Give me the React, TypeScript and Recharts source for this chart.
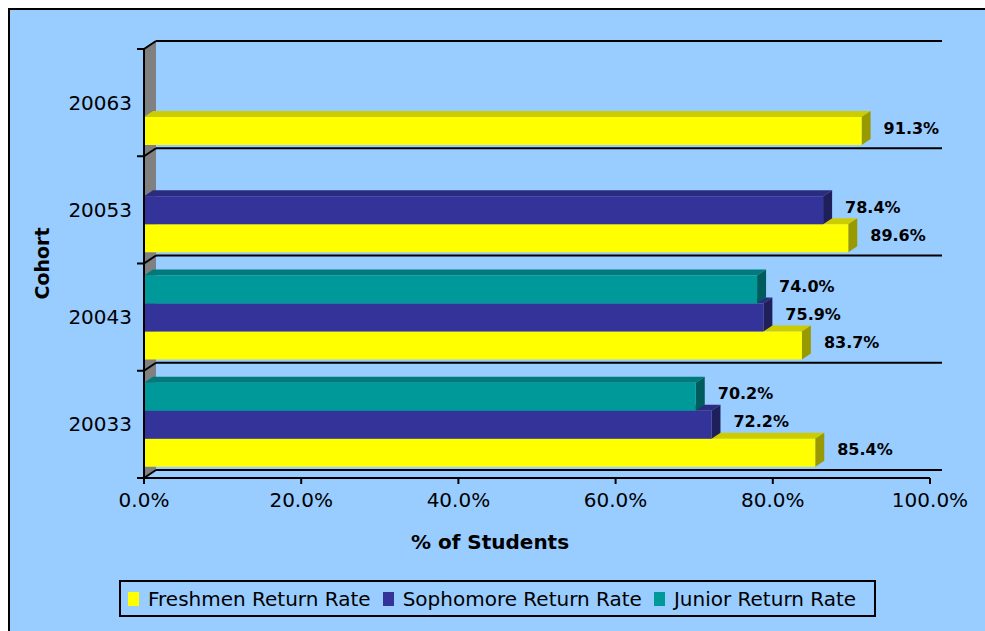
import { BarChart, Bar, XAxis, YAxis, LabelList, Customized } from 'recharts'

const cohorts = ['20063', '20053', '20043', '20033']
const freshmenRate = [91.3, 89.6, 83.7, 85.4]
const sophomoreRate = [null, 86.4, 78.8, 72.2]
const juniorRate = [null, null, 78.0, 70.2]
const freshmenLabels = ['91.3%', '89.6%', '83.7%', '85.4%']
const sophomoreLabels = ['', '78.4%', '75.9%', '72.2%']
const juniorLabels = ['', '', '74.0%', '70.2%']
const xTicks = [0, 20, 40, 60, 80, 100]

const seriesNames = ['Freshmen Return Rate', 'Sophomore Return Rate', 'Junior Return Rate']

const FONT = '"DejaVu Sans", Verdana, sans-serif'
const BG = '#99CCFF'

const FACES = {
  fresh: { front: '#FFFF00', top: '#CCCC00', side: '#999900' },
  soph: { front: '#333399', top: '#2B2B80', side: '#1F1F5C' },
  junior: { front: '#009999', top: '#007A7A', side: '#005C5C' },
}
const legendColors = [FACES.fresh.front, FACES.soph.front, FACES.junior.front]

// chart box and layout
const W = 975
const H = 621
const M = { top: 39, right: 55, bottom: 73, left: 54 }
const Y_W = 80
const X_H = 80
const PLOT = {
  x: M.left + Y_W,
  y: M.top,
  w: W - M.left - Y_W - M.right,
  h: H - M.top - M.bottom - X_H,
}
// 3d depth of walls and boxes
const WALL_DX = 12
const WALL_DY = 8
const BOX_DX = 9
const BOX_DY = 6

const data = cohorts.map((c, i) => ({
  cohort: c,
  fresh: freshmenRate[i],
  soph: sophomoreRate[i],
  junior: juniorRate[i],
  freshLabel: freshmenLabels[i],
  sophLabel: sophomoreLabels[i],
  juniorLabel: juniorLabels[i],
}))

function Box3D(props: any) {
  const { x, y, width, height, faces } = props
  if (!(width > 0) || !(height > 0)) return null
  const r = x + width
  return (
    <g>
      <polygon
        points={`${x},${y} ${x + BOX_DX},${y - BOX_DY} ${r + BOX_DX},${y - BOX_DY} ${r},${y}`}
        fill={faces.top}
      />
      <polygon
        points={`${r},${y} ${r + BOX_DX},${y - BOX_DY} ${r + BOX_DX},${y + height - BOX_DY} ${r},${y + height}`}
        fill={faces.side}
      />
      <rect x={x} y={y} width={width} height={height} fill={faces.front} />
    </g>
  )
}

const renderLabel = (p: any) => {
  const { x, y, width, height, value } = p
  if (!value) return null
  return (
    <text
      x={Number(x) + Number(width) + 22}
      y={Number(y) + Number(height) / 2 - 3}
      dominantBaseline="central"
      fontFamily={FONT}
      fontWeight="bold"
      fontSize={16}
      fill="#000"
    >
      {value}
    </text>
  )
}

// back wall, side wall and category boundary lines
function Walls() {
  const n = cohorts.length
  const band = PLOT.h / n
  const bounds = Array.from({ length: n + 1 }, (_, i) => PLOT.y + i * band)
  const { x, y, w, h } = PLOT
  return (
    <g>
      <polygon
        points={`${x},${y} ${x + WALL_DX},${y - WALL_DY} ${x + WALL_DX},${y + h - WALL_DY} ${x},${y + h}`}
        fill="#808080"
      />
      {bounds.map((b, i) => (
        <g key={i}>
          <line x1={x + WALL_DX} y1={b - WALL_DY} x2={x + w + WALL_DX} y2={b - WALL_DY} stroke="#000" strokeWidth={2} />
          <line x1={x} y1={b} x2={x + WALL_DX} y2={b - WALL_DY} stroke="#000" strokeWidth={2} />
          <line x1={x - 7} y1={b} x2={x} y2={b} stroke="#000" strokeWidth={2} />
        </g>
      ))}
    </g>
  )
}

function Legend3() {
  return (
    <div
      style={{
        position: 'absolute',
        left: 109,
        top: 570,
        width: 757,
        height: 37,
        boxSizing: 'border-box',
        border: '2px solid #000',
        display: 'flex',
        alignItems: 'center',
        paddingLeft: 7,
        fontFamily: FONT,
        fontSize: 20,
        color: '#000',
        whiteSpace: 'nowrap',
      }}
    >
      {seriesNames.map((name, i) => (
        <span key={name} style={{ display: 'flex', alignItems: 'center', marginRight: 12 }}>
          <span style={{ display: 'inline-block', width: 11, height: 14, background: legendColors[i], marginRight: 9 }} />
          {name}
        </span>
      ))}
    </div>
  )
}

export default function App() {
  return (
    <div
      style={{
        position: 'fixed',
        left: 8,
        top: 8,
        width: W,
        height: H,
        background: BG,
        borderLeft: '2px solid #000',
        borderTop: '2px solid #000',
      }}
    >
      <BarChart
        layout="vertical"
        width={W}
        height={H}
        data={data}
        margin={M}
        barSize={28}
        barGap={-56}
      >
        <Customized component={<Walls />} />
        <XAxis
          type="number"
          domain={[0, 100]}
          ticks={xTicks}
          tickFormatter={(v: number) => `${v.toFixed(1)}%`}
          height={X_H}
          tickSize={6}
          tickMargin={9}
          tick={{ fill: '#000', fontSize: 20, fontFamily: FONT }}
          axisLine={{ stroke: '#000', strokeWidth: 2 }}
          tickLine={{ stroke: '#000', strokeWidth: 2 }}
          label={() => (
            <text x={480} y={532} textAnchor="middle" dominantBaseline="central" fontFamily={FONT} fontWeight="bold" fontSize={20} fill="#000">
              % of Students
            </text>
          )}
        />
        <YAxis
          type="category"
          dataKey="cohort"
          width={Y_W}
          tickLine={false}
          tickSize={0}
          tickMargin={12}
          tick={{ fill: '#000', fontSize: 20, fontFamily: FONT }}
          axisLine={{ stroke: '#000', strokeWidth: 2 }}
          label={() => (
            <text
              x={32}
              y={PLOT.y + PLOT.h / 2}
              textAnchor="middle"
              dominantBaseline="central"
              transform={`rotate(-90 32 ${PLOT.y + PLOT.h / 2})`}
              fontFamily={FONT}
              fontWeight="bold"
              fontSize={19}
              fill="#000"
            >
              Cohort
            </text>
          )}
        />
        {/* drawn bottom-up in each band so upper boxes cover lower top faces */}
        <Bar dataKey="fresh" isAnimationActive={false} shape={(p: any) => <Box3D {...p} faces={FACES.fresh} />}>
          <LabelList dataKey="freshLabel" content={renderLabel} />
        </Bar>
        <Bar dataKey="soph" isAnimationActive={false} shape={(p: any) => <Box3D {...p} faces={FACES.soph} />}>
          <LabelList dataKey="sophLabel" content={renderLabel} />
        </Bar>
        <Bar dataKey="junior" isAnimationActive={false} shape={(p: any) => <Box3D {...p} faces={FACES.junior} />}>
          <LabelList dataKey="juniorLabel" content={renderLabel} />
        </Bar>
      </BarChart>
      <Legend3 />
    </div>
  )
}
